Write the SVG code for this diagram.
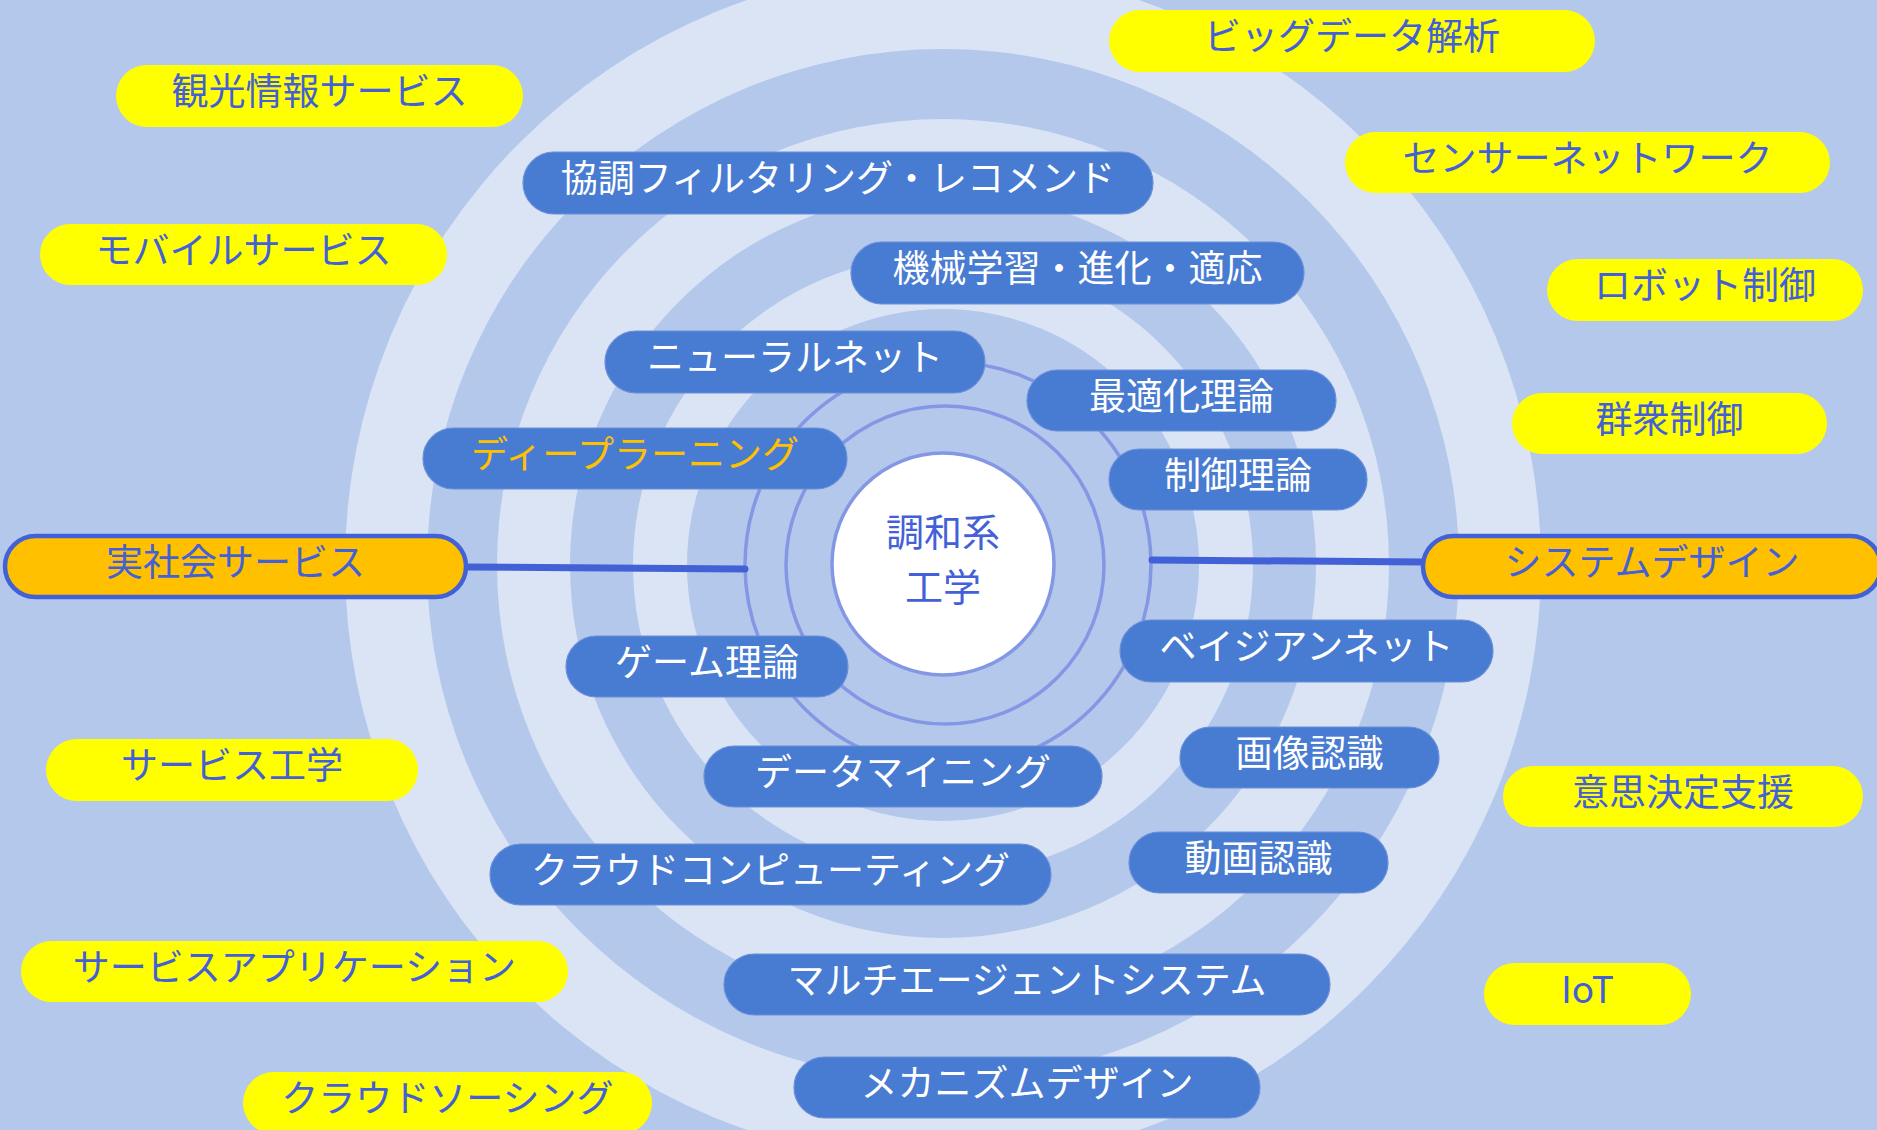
<svg xmlns="http://www.w3.org/2000/svg" width="1877" height="1130" viewBox="0 0 1877 1130">
<style>
text{font-family:"Noto Sans CJK JP","Noto Sans",sans-serif;font-size:37px;text-anchor:middle}
.y rect{fill:#ffff00}
.y text{fill:#4360d8}
.b rect{fill:#487bd2;stroke:#6a8fd8;stroke-width:1.2}
.b text{fill:#ffffff}
.o rect{fill:#ffc000;stroke:#4361d6;stroke-width:4.5}
.o text{fill:#4360d8}
.ring{fill:none;stroke:#8497e5;stroke-width:3.5}
.con{stroke:#4361d6;stroke-width:7;stroke-linecap:round;fill:none}
</style>
<rect width="1877" height="1130" fill="#b4c8eb"/>
<g id="rings">
<circle cx="943" cy="565" r="598" fill="#dae4f5"/>
<circle cx="943" cy="565" r="516" fill="#b4c8eb"/>
<circle cx="943" cy="565" r="446" fill="#dae4f5"/>
<circle cx="943" cy="565" r="373" fill="#b4c8eb"/>
<circle cx="943" cy="565" r="310" fill="#dae4f5"/>
<circle cx="943" cy="565" r="256" fill="#b4c8eb"/>
<circle class="ring" cx="948" cy="565" r="203"/>
<circle class="ring" cx="945" cy="565" r="159"/>
</g>
<g id="connectors">
<line class="con" x1="466" y1="567" x2="745" y2="569"/>
<line class="con" x1="1152" y1="560" x2="1423" y2="562"/>
</g>
<g id="center">
<circle cx="943" cy="564" r="111" fill="#ffffff" stroke="#8497e5" stroke-width="3.5"/>
<text x="943" y="546" style="font-size:38px;fill:#4360d8">調和系</text>
<text x="943" y="601" style="font-size:38px;fill:#4360d8">工学</text>
</g>
<g id="n1" class="y"><rect x="116" y="65" width="407" height="62" rx="31"/><text x="319.5" y="105">観光情報サービス</text></g>
<g id="n2" class="y"><rect x="40" y="224" width="407" height="61" rx="30.5"/><text x="243.5" y="263.5">モバイルサービス</text></g>
<g id="n3" class="y"><rect x="46" y="739" width="372" height="62" rx="31"/><text x="232" y="779">サービス工学</text></g>
<g id="n4" class="y"><rect x="21" y="941" width="547" height="61" rx="30.5"/><text x="294.5" y="980.5">サービスアプリケーション</text></g>
<g id="n5" class="y"><rect x="243" y="1072" width="409" height="62" rx="31"/><text x="447.5" y="1112">クラウドソーシング</text></g>
<g id="n6" class="y"><rect x="1109" y="10" width="486" height="62" rx="31"/><text x="1352" y="50">ビッグデータ解析</text></g>
<g id="n7" class="y"><rect x="1345" y="132" width="485" height="61" rx="30.5"/><text x="1587.5" y="171.5">センサーネットワーク</text></g>
<g id="n8" class="y"><rect x="1547" y="259" width="316" height="62" rx="31"/><text x="1705" y="299">ロボット制御</text></g>
<g id="n9" class="y"><rect x="1512" y="393" width="315" height="61" rx="30.5"/><text x="1669.5" y="432.5">群衆制御</text></g>
<g id="n10" class="y"><rect x="1503" y="766" width="360" height="61" rx="30.5"/><text x="1683" y="805.5">意思決定支援</text></g>
<g id="n11" class="y"><rect x="1484" y="963" width="207" height="62" rx="31"/><text x="1587.5" y="1003">IoT</text></g>
<g id="n12" class="b"><rect x="523" y="152" width="630" height="62" rx="31"/><text x="838" y="192">協調フィルタリング・レコメンド</text></g>
<g id="n13" class="b"><rect x="851" y="242" width="453" height="62" rx="31"/><text x="1077.5" y="282">機械学習・進化・適応</text></g>
<g id="n14" class="b"><rect x="605" y="331" width="380" height="62" rx="31"/><text x="795" y="371">ニューラルネット</text></g>
<g id="n15" class="b"><rect x="423" y="428" width="424" height="61" rx="30.5"/><text x="635" y="467.5" style="fill:#ffc000">ディープラーニング</text></g>
<g id="n16" class="b"><rect x="1027" y="370" width="309" height="61" rx="30.5"/><text x="1181.5" y="409.5">最適化理論</text></g>
<g id="n17" class="b"><rect x="1109" y="449" width="258" height="61" rx="30.5"/><text x="1238" y="488.5">制御理論</text></g>
<g id="n18" class="b"><rect x="566" y="636" width="282" height="61" rx="30.5"/><text x="707" y="675.5">ゲーム理論</text></g>
<g id="n19" class="b"><rect x="1120" y="620" width="373" height="62" rx="31"/><text x="1306.5" y="660">ベイジアンネット</text></g>
<g id="n20" class="b"><rect x="704" y="746" width="398" height="61" rx="30.5"/><text x="903" y="785.5">データマイニング</text></g>
<g id="n21" class="b"><rect x="1180" y="727" width="259" height="61" rx="30.5"/><text x="1309.5" y="766.5">画像認識</text></g>
<g id="n22" class="b"><rect x="490" y="844" width="561" height="61" rx="30.5"/><text x="770.5" y="883.5">クラウドコンピューティング</text></g>
<g id="n23" class="b"><rect x="1129" y="832" width="259" height="61" rx="30.5"/><text x="1258.5" y="871.5">動画認識</text></g>
<g id="n24" class="b"><rect x="724" y="954" width="606" height="61" rx="30.5"/><text x="1027" y="993.5">マルチエージェントシステム</text></g>
<g id="n25" class="b"><rect x="794" y="1057" width="466" height="61" rx="30.5"/><text x="1027" y="1096.5">メカニズムデザイン</text></g>
<g id="n26" class="o"><rect x="5" y="536" width="461" height="61" rx="30.5"/><text x="235.5" y="575.5">実社会サービス</text></g>
<g id="n27" class="o"><rect x="1423" y="536" width="458" height="61" rx="30.5"/><text x="1652" y="575.5">システムデザイン</text></g>
</svg>
